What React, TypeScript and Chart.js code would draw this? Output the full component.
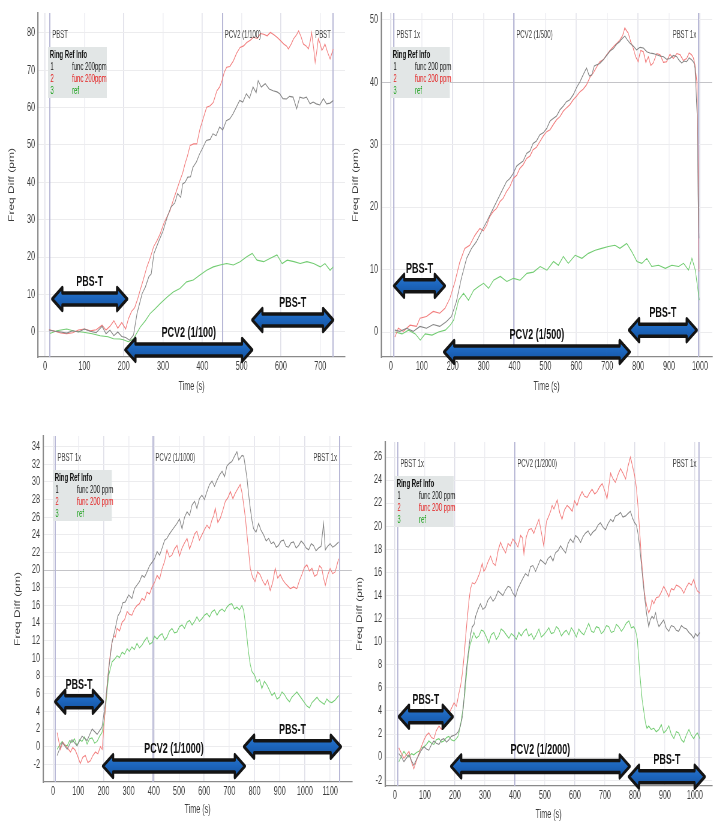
import React, { useEffect, useRef } from 'react';
import { Chart, registerables } from 'chart.js';

Chart.register(...registerables);

type Pt = [number, number];

// ---------------- DATA ----------------
// Panel 1: PCV2 (1/100)
const P1_BLACK: Pt[] = [[10,0.5],[25,0.2],[40,0],[55,-0.3],[70,0.3],[85,0],[100,0.8],[115,0.2],[130,-0.2],[145,1.5],[155,-0.5],[165,0.5],[175,-1],[185,0],[195,-1.2],[205,-1.5],[215,-2.2],[225,-0.8],[234,5],[247,10.3],[255,12],[264,14.8],[270,15.5],[277,21],[290,24.5],[300,27],[310,30.5],[320,33.4],[330,34.5],[337,37],[345,36],[350,39.6],[356,40],[363,41.4],[370,41.5],[376,44],[385,45.5],[393,47.6],[400,49],[410,51.2],[420,51.5],[427,53],[435,52.5],[444,54.8],[452,54],[461,56.5],[470,57],[478,58.3],[486,60],[495,61.9],[503,61.5],[512,63.7],[520,62.5],[529,65.5],[537,64],[542,67.2],[550,65.5],[560,66.4],[570,65],[580,64.5],[590,64.2],[597,63.7],[605,62.4],[614,62.3],[622,63],[631,62.8],[640,59.7],[648,62.8],[657,62.5],[665,62.8],[674,61],[682,61.5],[690,61],[699,60.7],[708,62.4],[716,61],[725,61.2],[733,61.9]];
const P1_RED: Pt[] = [[10,0.6],[25,0.2],[40,-0.3],[55,-0.5],[70,-0.2],[85,0.5],[100,0.8],[115,0.3],[130,0.6],[145,1.8],[155,0.5],[165,1.5],[175,3],[185,1],[195,2.5],[205,0.8],[212,3.5],[220,5.5],[228,6.5],[236,9],[242,11.2],[250,14],[259,17.4],[268,20],[276,22.8],[285,24.5],[293,26.3],[302,29],[310,30.8],[318,32.5],[326,35.2],[335,38],[343,40.5],[350,42.5],[356,45],[362,47],[369,49.9],[378,50.3],[386,50.3],[394,54.3],[402,57],[411,60.1],[420,60.5],[428,61.4],[437,64.5],[444,65.5],[450,67.2],[456,69.5],[462,70.8],[470,71],[479,72.5],[487,74.5],[496,76.1],[505,76.5],[513,77.4],[522,78],[530,78.8],[540,78.5],[548,79.8],[556,79.6],[565,79.2],[573,80.1],[582,79.5],[590,78.8],[598,78],[607,77],[614,76.5],[619,75.7],[626,77],[632,78.4],[640,79.5],[645,80.5],[651,79],[657,77],[664,76.5],[670,75.7],[675,78],[678,80.1],[683,76],[687,72.1],[691,75],[695,78.4],[700,77],[704,75.3],[708,76],[712,77],[718,75],[725,73],[733,75.7]];
const P1_GREEN: Pt[] = [[12,-0.4],[30,0.3],[55,0.8],[75,0.2],[98,-0.1],[120,-0.5],[140,-1],[160,-1.3],[174,-1.8],[190,-1.9],[199,-2.1],[212,-2.6],[225,-1.8],[242,1.3],[255,3],[267,4.9],[280,6.2],[293,7.6],[310,9.3],[326,10.7],[343,11.6],[360,13.4],[377,13.9],[394,15.2],[411,16.5],[428,17.4],[445,17.9],[462,18.3],[479,17.9],[496,18.8],[513,20.1],[527,21],[539,19.2],[556,18.8],[573,19.7],[590,20.6],[603,18.3],[616,19.2],[633,18.8],[649,18.3],[666,18.8],[683,18.3],[700,17.4],[712,18.3],[725,16.5],[733,17.4]];

// Panel 2: PCV2 (1/500)
const P2_BLACK: Pt[] = [[13,0.3],[29,0.1],[51,0.6],[72,0.1],[94,0.9],[115,0.6],[137,1.2],[158,0.9],[180,1.7],[196,2.5],[212,4.9],[228,8.6],[245,11.8],[261,13.4],[277,14.5],[293,16.1],[310,17.7],[326,19.3],[342,20.9],[358,22.5],[374,24.1],[385,24.6],[396,25.4],[407,26.6],[417,27],[428,27.4],[439,28.6],[450,29],[460,30.2],[471,30.6],[482,31.6],[493,31.9],[504,32.6],[515,33.8],[525,34.2],[536,34.6],[547,35.6],[558,36.2],[568,36.9],[579,37.2],[590,38],[601,39.2],[612,40.1],[622,41.2],[633,42.3],[642,41],[650,41.2],[658,42.6],[666,42.8],[676,43],[687,43.6],[698,44.3],[709,45],[720,45.4],[730,46.1],[740,46.5],[746,46.9],[757,47.4],[765,46.8],[773,46.3],[784,45.8],[795,45.2],[806,45.6],[817,45.5],[828,44.9],[838,44.7],[849,44.6],[860,44.4],[871,44.2],[882,44.1],[892,43.7],[903,43.8],[914,44.3],[925,44.1],[933,43.5],[941,43.1],[949,43.4],[957,43.3],[965,43.9],[973,43.6],[980,43.2],[984,42.3],[991,34.8],[994,22],[997,15]];
const P2_RED: Pt[] = [[13,-0.8],[24,0.6],[40,0.1],[62,1.1],[83,0.9],[94,2.2],[115,2.5],[137,3.3],[158,3],[175,3.8],[191,5.4],[207,8],[223,11.2],[239,13.4],[255,13.9],[272,15.5],[288,16.6],[299,16.2],[310,17.1],[320,18.5],[331,19.3],[342,19.8],[353,20.9],[363,21.4],[374,22.5],[385,23.3],[396,24.6],[407,25.1],[417,26.2],[428,26.8],[439,27.8],[450,28.2],[460,29.2],[471,29.6],[482,30.5],[493,31.4],[504,32.1],[515,32.4],[525,33.2],[536,34],[547,34.5],[558,35.4],[568,35.9],[579,36.4],[590,37.2],[601,37.8],[612,38.5],[622,38.9],[633,39.6],[644,40.8],[655,41.5],[665,42.4],[676,43.3],[687,43.6],[698,44.4],[709,45.1],[720,45.7],[730,46.2],[741,46.8],[750,47.5],[757,48.7],[762,48.3],[768,47.9],[776,46.5],[784,45.5],[792,44.1],[800,43.3],[808,45.1],[817,44.9],[825,43.2],[833,44.1],[841,42.7],[849,43.1],[860,44.6],[871,44.4],[882,43.2],[892,43.3],[903,44.5],[914,43.8],[925,44.6],[936,44.4],[946,43.5],[957,43.8],[965,44.7],[973,44.4],[979,43.9],[984,42.8],[990,40.1],[995,24.1],[997,9.7]];
const P2_GREEN: Pt[] = [[14,0],[36,-0.3],[57,0.3],[79,-0.3],[95,-1.3],[111,-0.3],[133,-0.5],[154,0],[176,0.3],[192,1.1],[203,1.9],[219,5.1],[235,6.2],[251,5.1],[268,6.7],[284,7.3],[300,7.8],[316,7],[332,8.3],[354,8.9],[375,8.1],[397,8.6],[418,8.3],[440,9.4],[461,9.6],[483,10.5],[505,9.9],[526,11.3],[542,10.7],[558,12.1],[574,11],[596,12.3],[618,11.8],[639,12.6],[661,13.1],[682,13.4],[704,13.7],[725,13.9],[741,13.4],[763,14.2],[779,12.9],[796,11.3],[812,11],[828,11.8],[844,10.5],[866,10.7],[888,10.2],[909,10.7],[931,10.5],[947,11],[963,9.9],[974,11.8],[985,9.9],[998,5.1]];

// Panel 3: PCV2 (1/1000)
const P3_BLACK: Pt[] = [[16,-1],[36,0.5],[56,-0.3],[75,0.8],[95,0.1],[115,1.2],[135,0.7],[155,2],[175,1.4],[194,2.2],[208,5],[221,8.8],[234,11.8],[247,13.4],[257,14.8],[267,15.3],[277,16.3],[287,16.4],[300,17.2],[313,16.8],[323,17.9],[333,18.3],[343,18.7],[353,19.4],[363,19.2],[373,19.8],[383,20.5],[393,20.9],[403,21.3],[413,22.1],[423,21.7],[433,22.5],[443,23.4],[452,23.6],[462,24.1],[472,24.5],[482,24.9],[492,25.3],[502,25.8],[512,24.7],[522,26],[532,26.6],[542,26.2],[552,27.4],[562,27.8],[571,27],[581,28.1],[591,28.5],[601,28],[611,28.9],[621,29.7],[631,30.1],[641,29.5],[651,30.2],[661,30.8],[671,31.2],[681,30.6],[690,31.8],[700,32.1],[710,32.3],[720,32.9],[730,33.4],[737,32.5],[743,32.7],[750,33],[757,32.9],[763,31.8],[770,30.4],[776,28.7],[783,27],[790,25.6],[796,24.7],[806,24.3],[816,25.3],[826,24.5],[836,24],[846,23.3],[856,23.6],[866,23],[876,23.2],[886,22.6],[895,22.8],[905,23.3],[915,23.4],[925,22.7],[935,22.6],[945,23.1],[955,23.2],[965,22.5],[975,22.8],[985,23.3],[995,23],[1005,22.5],[1015,22.3],[1025,23],[1034,22.8],[1044,22.2],[1054,22.5],[1064,22.7],[1074,25.3],[1081,22.3],[1090,22.7],[1100,23],[1110,22.6],[1120,22.8],[1134,23.2]];
const P3_RED: Pt[] = [[16,1.6],[29,-0.3],[39,0.5],[49,0.1],[59,-0.2],[69,-0.6],[78,-0.1],[88,-0.4],[98,-1.1],[108,-1.9],[118,-1.2],[128,-1],[138,-1.8],[148,-1.6],[158,-1],[168,-0.6],[178,-0.8],[188,0],[195,-0.3],[201,2],[208,4.5],[214,6.9],[221,9],[228,10.7],[234,11.8],[241,12.6],[247,12.4],[254,13.4],[264,13.1],[274,14.1],[284,14.4],[294,15.3],[303,15],[313,14.9],[323,15.6],[333,16],[343,16.2],[353,16.8],[363,16.6],[373,17.5],[383,17.3],[393,18.1],[403,18.6],[413,19.4],[423,19],[433,20.2],[443,21],[452,22.3],[462,21.5],[472,21.7],[482,22.4],[492,22.8],[502,21.6],[512,22.5],[522,23.1],[532,23.6],[542,22.4],[552,23.2],[562,24.1],[571,24.4],[581,23.4],[591,24],[601,24.6],[611,25.1],[621,24.7],[631,25.7],[638,26.2],[644,27],[654,25.4],[664,25.9],[674,26.8],[684,27.8],[694,28.2],[704,28.9],[714,28.1],[723,28.7],[733,29.2],[743,29.7],[750,28.8],[757,27.4],[764,25.8],[770,24],[777,22],[783,20.2],[792,19.2],[802,18.7],[812,19.8],[822,19.5],[832,18.8],[842,18.3],[852,18.9],[862,17.7],[872,18.6],[882,20.2],[892,19.1],[902,19.5],[912,18.9],[922,18.5],[932,18.2],[942,17.9],[955,18.1],[968,17.9],[978,18.8],[988,19.5],[998,20.3],[1008,20.6],[1018,19.9],[1028,20.2],[1038,19.3],[1048,19.5],[1058,20.5],[1067,20.2],[1074,19.1],[1081,18.3],[1090,19.4],[1100,20.2],[1110,19.6],[1120,19.8],[1134,21.3]];
const P3_GREEN: Pt[] = [[16,-0.3],[26,0.2],[36,0.6],[46,0.2],[56,0.1],[66,0.7],[75,0.5],[85,0.9],[95,0.1],[105,0.8],[115,0.6],[125,1.1],[135,0.3],[145,0.9],[155,1],[165,0.4],[175,0.6],[185,1.2],[194,1.6],[201,2.6],[208,4.3],[214,6.2],[221,8.1],[228,8.9],[234,9.6],[244,9.9],[254,10.3],[264,10.1],[274,10.7],[284,10.5],[294,11.1],[303,10.8],[313,11.3],[323,11],[333,11.7],[343,11.2],[353,11.5],[363,12],[373,12.4],[383,11.6],[393,11.8],[403,12.5],[413,12.2],[423,12.6],[433,12.8],[443,12.1],[452,12.4],[462,13.1],[472,13.4],[482,12.9],[492,13],[502,13.6],[512,13.8],[522,13.4],[532,14.1],[542,14.3],[552,13.8],[562,14.2],[571,14.7],[581,14.2],[591,14.5],[601,14.9],[611,15.1],[621,14.7],[631,15.3],[641,15.5],[651,14.9],[661,15.4],[671,15.6],[681,15.3],[690,15.8],[700,16.1],[710,16.2],[720,15.6],[730,15.8],[740,15.5],[750,16],[757,15.4],[763,14.1],[770,12.3],[776,10.7],[783,9.3],[790,8.5],[800,8.1],[810,7.3],[820,7.6],[829,6.6],[839,7.4],[849,7],[859,6.4],[869,5.8],[879,6.1],[889,5.4],[899,5.6],[909,6.2],[919,5.9],[929,5.4],[939,5.1],[948,5.6],[958,5.9],[968,6.2],[978,5.8],[988,5.4],[998,5],[1008,4.6],[1018,4.4],[1028,5],[1038,5.3],[1048,5.6],[1058,5.2],[1067,5],[1077,4.8],[1087,5.4],[1097,5.1],[1107,5],[1120,5.3],[1134,5.8]];

// Panel 4: PCV2 (1/2000)
const P4_BLACK: Pt[] = [[13,0.3],[22,0],[30,-0.4],[38,-0.1],[47,0.2],[55,-0.3],[63,-0.7],[72,-0.2],[80,0.2],[88,0.6],[97,0.9],[105,0.7],[113,0.6],[122,1.1],[130,1.4],[138,1.2],[147,1.1],[155,1.5],[163,1.6],[172,1.3],[180,1.5],[188,1.8],[197,1.9],[205,2],[213,2.3],[219,2.8],[225,3.5],[230,5],[235,6.7],[241,8.3],[247,9.6],[252,10.6],[258,11.3],[264,11.5],[269,12.2],[277,12.8],[285,13.3],[293,12.8],[302,13],[310,13.6],[319,13.9],[327,13.5],[335,13.8],[344,14.4],[352,14.2],[360,14],[369,14.5],[377,14.8],[385,14.7],[393,14.2],[402,13.9],[410,14.6],[419,15.1],[427,15.5],[435,15.9],[444,15.7],[452,16.5],[460,16.6],[469,16.1],[477,16.6],[485,17.1],[494,16.9],[502,16.7],[510,17.2],[519,17.4],[527,17],[535,17.7],[544,17.9],[552,18.3],[560,18],[569,17.7],[577,18.5],[585,18.9],[594,18.6],[602,19.2],[610,19],[619,18.6],[627,19.1],[635,19.4],[644,19.6],[652,19.2],[660,19.5],[669,19.7],[677,20.1],[685,20.3],[694,19.9],[702,19.7],[710,20.2],[719,20.6],[727,20.4],[735,20.9],[744,21],[752,21.2],[760,20.8],[769,20.9],[777,21.1],[785,21.3],[792,20.7],[799,20.3],[805,20.1],[810,19.4],[816,18.2],[821,16.8],[827,15.2],[832,13.9],[839,12.4],[846,11.3],[851,11.9],[857,12.2],[863,12],[869,12.5],[874,11.8],[880,11.3],[888,11.6],[896,11.9],[904,11.2],[913,10.9],[921,11.4],[930,11.3],[938,11],[946,10.9],[955,11.4],[963,11.2],[972,11.1],[980,10.8],[988,10.6],[996,10.3],[1002,10.7],[1008,10.5],[1017,10.8]];
const P4_RED: Pt[] = [[13,0.8],[22,0.3],[30,-0.1],[38,0.2],[47,0.5],[55,-0.4],[63,-1],[72,-0.3],[80,0.3],[88,0.9],[97,1.5],[105,1.9],[113,2.1],[122,1.7],[130,1.6],[138,2.3],[147,2.7],[155,2.4],[163,3.2],[172,3.4],[180,3.8],[188,4.2],[197,4.7],[205,4.4],[213,5.5],[219,6.2],[225,7.3],[230,8.6],[235,10.2],[241,12],[247,13.6],[252,14.6],[258,15.1],[266,15],[274,15.4],[282,15.9],[291,16.8],[296,16.1],[302,16.3],[310,16.9],[319,17.4],[327,16.8],[335,16.6],[344,17.9],[352,18.6],[360,18.1],[369,17.7],[377,18.5],[385,18.3],[393,18.9],[402,18.6],[410,18.2],[419,19.2],[425,19],[430,17.6],[438,19.1],[446,19.7],[455,19.8],[463,19.4],[471,20],[480,20.6],[488,19.5],[496,18.3],[505,20.4],[513,20.9],[519,21.3],[524,21.8],[530,21.5],[541,22.3],[549,21.2],[557,20.6],[565,21.4],[574,21.8],[582,21.6],[591,21.3],[599,22.2],[607,21.8],[615,22.5],[624,23],[632,22.6],[641,22.5],[649,22.9],[657,23.2],[666,22.8],[674,23],[682,23.4],[691,23.7],[699,23.1],[707,22.4],[713,23.5],[719,24.6],[727,24.1],[735,23.8],[744,24.5],[752,25],[760,24.6],[769,24.1],[777,25.2],[785,26],[792,25.2],[799,24.4],[805,23.3],[810,21.8],[816,19.5],[821,17.4],[827,15.6],[832,14.2],[839,13.1],[846,12.5],[852,12.9],[857,13.6],[863,13.3],[871,13.8],[880,13.9],[888,14.3],[896,14.8],[904,14.4],[913,13.9],[921,14.6],[930,14.5],[938,14.9],[946,14.8],[955,14.6],[963,14.2],[971,14.7],[980,15.1],[988,14.9],[996,15.4],[1002,14.8],[1008,14.4],[1017,14.2]];
const P4_GREEN: Pt[] = [[13,-0.4],[22,0.1],[30,0.5],[38,0.2],[47,0],[55,0.3],[63,0.2],[72,0.4],[80,0.5],[88,0.8],[97,0.9],[105,1.1],[113,1.4],[122,1.2],[130,1.1],[138,1.5],[147,1.6],[155,1.3],[163,1.4],[172,1.7],[180,1.8],[188,1.5],[197,1.4],[205,1.6],[210,1.8],[216,2.4],[221,3.2],[227,4.2],[233,5.5],[237,6.7],[241,7.9],[245,8.8],[249,9.6],[256,10.2],[263,10.8],[271,10.3],[280,10.5],[288,11],[296,10.9],[305,10.4],[313,9.9],[321,10.6],[330,10.8],[338,10.2],[346,10.5],[354,11.1],[363,10.9],[371,10.6],[380,10.3],[388,10.7],[397,10.5],[405,10.2],[413,10.8],[421,10.5],[430,10.9],[438,11.1],[446,10.5],[455,10.7],[463,10.2],[471,10.6],[480,11.1],[488,10.4],[496,10.6],[505,10.9],[513,11.2],[521,10.7],[530,10.8],[538,11.3],[546,11.1],[555,10.5],[563,10.8],[571,11],[580,10.6],[588,11.2],[596,10.9],[605,10.4],[613,11.1],[621,10.8],[630,10.6],[638,11.1],[646,11.6],[655,10.9],[663,10.8],[671,11.3],[680,11.2],[688,10.7],[696,10.9],[705,11.4],[713,11.3],[721,10.8],[730,10.9],[738,11.5],[746,11.3],[755,10.9],[763,11.2],[771,11.6],[780,11.8],[788,11.2],[796,11.3],[802,11],[808,10.2],[812,8.8],[816,7.3],[820,6.1],[824,5],[830,3.9],[835,3],[840,2.5],[846,2.7],[854,2.4],[863,2.5],[871,2.2],[880,2.4],[888,2.8],[896,2.1],[904,2.3],[913,2.7],[921,2],[930,1.6],[938,2.2],[946,2.1],[955,1.5],[963,1.3],[971,1.9],[980,2.4],[988,1.9],[996,1.6],[1002,1.9],[1008,2.1],[1017,1.6]];

// Tick labels
const P1_X_TICKS = [0, 100, 200, 300, 400, 500, 600, 700];
const P1_Y_TICKS = [0, 10, 20, 30, 40, 50, 60, 70, 80];
const P2_X_TICKS = [0, 100, 200, 300, 400, 500, 600, 700, 800, 900, 1000];
const P2_Y_TICKS = [0, 10, 20, 30, 40, 50];
const P3_X_TICKS = [0, 100, 200, 300, 400, 500, 600, 700, 800, 900, 1000, 1100];
const P3_Y_TICKS = [-2, 0, 2, 4, 6, 8, 10, 12, 14, 16, 18, 20, 22, 24, 26, 28, 30, 32, 34];
const P4_X_TICKS = [0, 100, 200, 300, 400, 500, 600, 700, 800, 900, 1000];
const P4_Y_TICKS = [-2, 0, 2, 4, 6, 8, 10, 12, 14, 16, 18, 20, 22, 24, 26];

// Injection events (time, label)
const P1_EVENTS: [number, string][] = [[12, 'PBST'], [451, 'PCV2 (1/100)'], [733, 'PBST']];
const P2_EVENTS: [number, string][] = [[10, 'PBST 1x'], [398, 'PCV2 (1/500)'], [996, 'PBST 1x']];
const P3_EVENTS: [number, string][] = [[8, 'PBST 1x'], [397, 'PCV2 (1/1000)'], [1137, 'PBST 1x']];
const P4_EVENTS: [number, string][] = [[10, 'PBST 1x'], [400, 'PCV2 (1/2000)'], [1013, 'PBST 1x']];

// Phase arrows: [from, to, level, label]
const P1_ARROWS: [number, number, number, string][] = [[18, 209, 8.8, 'PBS-T'], [204, 527, -4.8, 'PCV2 (1/100)'], [527, 733, 3.2, 'PBS-T']];
const P2_ARROWS: [number, number, number, string][] = [[10, 175, 7.4, 'PBS-T'], [172, 773, -3.2, 'PCV2 (1/500)'], [770, 990, 0.3, 'PBS-T']];
const P3_ARROWS: [number, number, number, string][] = [[8, 198, 5.1, 'PBS-T'], [198, 762, -2.2, 'PCV2 (1/1000)'], [758, 1143, 0, 'PBS-T']];
const P4_ARROWS: [number, number, number, string][] = [[13, 193, 3.5, 'PBS-T'], [187, 783, -0.8, 'PCV2 (1/2000)'], [780, 1033, -1.7, 'PBS-T']];

// Legend
const LEGEND_TITLE = 'Ring Ref Info';
const LEGEND_IDS = ['1', '2', '3'];
const P1_LEGEND_NAMES = ['func 200ppm', 'func 200ppm', 'ref'];
const LEGEND_NAMES = ['func 200 ppm', 'func 200 ppm', 'ref'];

// ---------------- STYLE / LAYOUT ----------------
const S = 0.6; // horizontal squeeze of the original figure
const FONT = "'Liberation Sans', Arial, sans-serif";
const LINE_COLORS = ['#858585', '#f27c7c', '#72cc72'];
const LEGEND_COLORS = ['#222222', '#e52222', '#17a017'];

interface PanelSpec {
  key: string;
  series: Pt[][];
  xTicks: number[];
  yTicks: number[];
  xRange: [number, number];
  yRange: [number, number];
  events: [number, string][];
  arrows: [number, number, number, string][];
  legendNames: string[];
  strongY: number[];
  box: { left: number; top: number; w: number; h: number };
  area: { left: number; right: number; top: number; bottom: number };
  xTitleY: number;
  yTitleX: number;
}

const PANELS: PanelSpec[] = [
  {
    key: 'p1', series: [P1_BLACK, P1_RED, P1_GREEN], xTicks: P1_X_TICKS, yTicks: P1_Y_TICKS,
    xRange: [-18, 763], yRange: [-6.7, 85.3], events: P1_EVENTS, arrows: P1_ARROWS,
    legendNames: P1_LEGEND_NAMES, strongY: [],
    box: { left: 0, top: 0, w: 350, h: 400 }, area: { left: 38, right: 345, top: 13, bottom: 357 },
    xTitleY: 387, yTitleX: 12,
  },
  {
    key: 'p2', series: [P2_BLACK, P2_RED, P2_GREEN], xTicks: P2_X_TICKS, yTicks: P2_Y_TICKS,
    xRange: [-32, 1039], yRange: [-4, 51.1], events: P2_EVENTS, arrows: P2_ARROWS,
    legendNames: LEGEND_NAMES, strongY: [40],
    box: { left: 350, top: 0, w: 373, h: 400 }, area: { left: 381, right: 712, top: 13, bottom: 357 },
    xTitleY: 387, yTitleX: 356,
  },
  {
    key: 'p3', series: [P3_BLACK, P3_RED, P3_GREEN], xTicks: P3_X_TICKS, yTicks: P3_Y_TICKS,
    xRange: [-40, 1187], yRange: [-4, 35.2], events: P3_EVENTS, arrows: P3_ARROWS,
    legendNames: LEGEND_NAMES, strongY: [20],
    box: { left: 0, top: 415, w: 358, h: 417 }, area: { left: 43, right: 352, top: 436, bottom: 782 },
    xTitleY: 810, yTitleX: 18,
  },
  {
    key: 'p4', series: [P4_BLACK, P4_RED, P4_GREEN], xTicks: P4_X_TICKS, yTicks: P4_Y_TICKS,
    xRange: [-33, 1057], yRange: [-2.5, 27.3], events: P4_EVENTS, arrows: P4_ARROWS,
    legendNames: LEGEND_NAMES, strongY: [],
    box: { left: 348, top: 415, w: 375, h: 417 }, area: { left: 385, right: 712, top: 442, bottom: 786 },
    xTitleY: 815, yTitleX: 360,
  },
];

function makeDecor(spec: PanelSpec) {
  return {
    id: 'decor_' + spec.key,
    beforeDatasetsDraw(chart: any) {
      const { ctx, chartArea } = chart;
      const xs = chart.scales.x;
      ctx.save();
      ctx.strokeStyle = '#b8b8d6';
      ctx.lineWidth = 2;
      spec.events.forEach(([t]) => {
        const px = Math.round(xs.getPixelForValue(t));
        ctx.beginPath();
        ctx.moveTo(px, chartArea.top);
        ctx.lineTo(px, chartArea.bottom);
        ctx.stroke();
      });
      ctx.restore();
    },
    afterDatasetsDraw(chart: any) {
      const { ctx, chartArea } = chart;
      const xs = chart.scales.x;
      const ys = chart.scales.y;
      ctx.save();
      // event labels
      ctx.font = `10px ${FONT}`;
      ctx.fillStyle = '#444';
      ctx.textBaseline = 'middle';
      spec.events.forEach(([t, label], i) => {
        const px = xs.getPixelForValue(t);
        const last = i === spec.events.length - 1;
        ctx.textAlign = last ? 'right' : 'left';
        ctx.fillText(label, last ? px - 4 : px + 4, chartArea.top + 22);
      });
      // legend box
      const bx = chartArea.left + 10 / S;
      const by = chartArea.top + 34;
      ctx.fillStyle = '#e2e6e6';
      ctx.fillRect(bx, by, 98, 51);
      ctx.textAlign = 'left';
      ctx.font = `bold 10px ${FONT}`;
      ctx.fillStyle = '#111';
      ctx.fillText(LEGEND_TITLE, bx + 3, by + 8);
      ctx.font = `10px ${FONT}`;
      LEGEND_IDS.forEach((id, i) => {
        ctx.fillStyle = LEGEND_COLORS[i];
        const yy = by + 20 + i * 12;
        ctx.fillText(id, bx + 4, yy);
        ctx.fillText(spec.legendNames[i], bx + 40, yy);
      });
      // phase arrows
      spec.arrows.forEach(([from, to, level, label]) => {
        const x1 = xs.getPixelForValue(from);
        const x2 = xs.getPixelForValue(to);
        const yc = ys.getPixelForValue(level);
        const hl = 17, hh = 11.5, sh = 6;
        ctx.beginPath();
        ctx.moveTo(x1, yc);
        ctx.lineTo(x1 + hl, yc - hh);
        ctx.lineTo(x1 + hl, yc - sh);
        ctx.lineTo(x2 - hl, yc - sh);
        ctx.lineTo(x2 - hl, yc - hh);
        ctx.lineTo(x2, yc);
        ctx.lineTo(x2 - hl, yc + hh);
        ctx.lineTo(x2 - hl, yc + sh);
        ctx.lineTo(x1 + hl, yc + sh);
        ctx.lineTo(x1 + hl, yc + hh);
        ctx.closePath();
        const g = ctx.createLinearGradient(0, yc - hh, 0, yc + hh);
        g.addColorStop(0, '#2a78d0');
        g.addColorStop(0.5, '#1c64bb');
        g.addColorStop(1, '#14509a');
        ctx.fillStyle = g;
        ctx.fill();
        ctx.lineJoin = 'round';
        ctx.lineWidth = 3.5;
        ctx.strokeStyle = '#141414';
        ctx.stroke();
        ctx.font = `bold 15px ${FONT}`;
        ctx.fillStyle = '#111';
        ctx.textAlign = 'center';
        ctx.textBaseline = 'middle';
        ctx.fillText(label, (x1 + x2) / 2, yc - 17);
      });
      ctx.restore();
    },
  };
}

function buildConfig(spec: PanelSpec): any {
  const { box, area } = spec;
  const iw = Math.round(box.w / S);
  const yWidth = (area.left - box.left) / S;
  const xHeight = box.top + box.h - area.bottom;
  const padTop = area.top - box.top;
  const padRight = iw - (area.right - box.left) / S;
  const titleHalf = 12 * 1.2 / 2;
  const xTitlePad = box.top + box.h - spec.xTitleY - titleHalf;
  const yTitlePad = (spec.yTitleX - box.left) / S - titleHalf;
  const tickFont = { family: FONT, size: 12 };
  return {
    type: 'line',
    data: {
      datasets: spec.series.map((s, i) => ({
        data: s.map(([t, v]) => ({ x: t, y: v })),
        borderColor: LINE_COLORS[i],
        borderWidth: 1.1,
        pointRadius: 0,
        tension: 0,
        fill: false,
      })),
    },
    options: {
      animation: false,
      responsive: false,
      devicePixelRatio: 1,
      parsing: false,
      layout: { padding: { top: padTop, right: padRight, left: 0, bottom: 0 } },
      plugins: { legend: { display: false }, tooltip: { enabled: false } },
      scales: {
        x: {
          type: 'linear',
          min: spec.xRange[0],
          max: spec.xRange[1],
          afterBuildTicks: (sc: any) => { sc.ticks = spec.xTicks.map((v) => ({ value: v })); },
          afterFit: (sc: any) => { sc.height = xHeight; },
          ticks: { font: tickFont, color: '#3c3c3c', padding: 2, autoSkip: false, maxRotation: 0, callback: (v: any) => String(v) },
          grid: {
            drawTicks: false,
            lineWidth: 1.6,
            color: (c: any) => (c.tick && c.tick.value % 200 === 0 ? '#e0e0e9' : '#eeeef3'),
          },
          border: { color: '#8a8a8a', width: 1.3 },
          title: { display: true, text: 'Time (s)', font: { family: FONT, size: 12 }, color: '#3c3c3c', padding: { top: 0, bottom: xTitlePad } },
        },
        y: {
          type: 'linear',
          min: spec.yRange[0],
          max: spec.yRange[1],
          afterBuildTicks: (sc: any) => { sc.ticks = spec.yTicks.map((v) => ({ value: v })); },
          afterFit: (sc: any) => { sc.width = yWidth; },
          ticks: { font: tickFont, color: '#3c3c3c', padding: 5, autoSkip: false, callback: (v: any) => String(v) },
          grid: {
            drawTicks: false,
            lineWidth: 1,
            color: (c: any) => (c.tick && spec.strongY.includes(c.tick.value) ? '#c4c4c8' : '#ececee'),
          },
          border: { color: '#8a8a8a', width: 2.2 },
          title: { display: true, text: 'Freq Diff (pm)', font: { family: FONT, size: 12 }, color: '#3c3c3c', padding: { top: yTitlePad, bottom: 0 } },
        },
      },
    },
    plugins: [makeDecor(spec)],
  };
}

function Panel({ spec }: { spec: PanelSpec }) {
  const ref = useRef<HTMLCanvasElement>(null);
  useEffect(() => {
    if (!ref.current) return;
    const chart = new Chart(ref.current, buildConfig(spec));
    return () => chart.destroy();
  }, [spec]);
  const iw = Math.round(spec.box.w / S);
  return (
    <div
      style={{
        position: 'absolute',
        left: spec.box.left,
        top: spec.box.top,
        width: iw,
        height: spec.box.h,
        transform: `scaleX(${S})`,
        transformOrigin: '0 0',
      }}
    >
      <canvas ref={ref} width={iw} height={spec.box.h} style={{ width: iw, height: spec.box.h, display: 'block' }} />
    </div>
  );
}

export default function App() {
  return (
    <div style={{ position: 'absolute', left: 0, top: 0, width: 723, height: 832, background: '#ffffff', overflow: 'hidden' }}>
      {PANELS.map((p) => (
        <Panel key={p.key} spec={p} />
      ))}
    </div>
  );
}
